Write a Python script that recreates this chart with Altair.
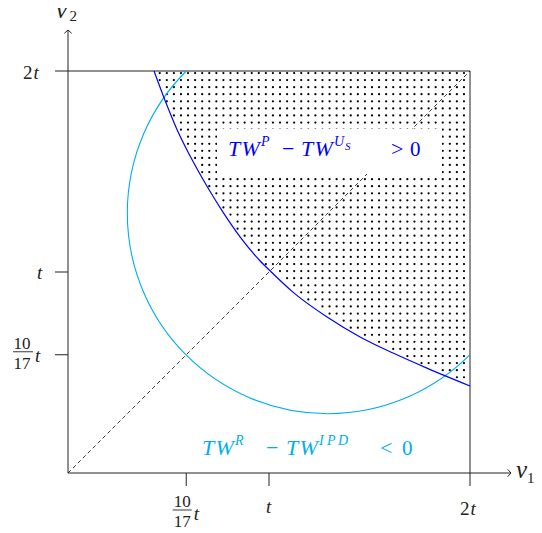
import altair as alt
import numpy as np
import pandas as pd

# ---------------- values (units of t) ----------------
TICK_VALUES = [10 / 17, 1.0, 2.0]
BOX_MAX = 2.0            # square [0, 2t] x [0, 2t]
AXIS_END = 2.204         # where the axis arrows end

# blue boundary  TW^P - TW^{U_S} = 0
CURVE_V1 = [0.428, 0.483, 0.541, 0.607, 0.690, 0.771, 0.856, 0.955, 1.005,
            1.119, 1.289, 1.453, 1.617, 1.786, 2.000]
CURVE_V2 = [2.000, 1.853, 1.712, 1.578, 1.429, 1.298, 1.175, 1.056, 1.006,
            0.900, 0.776, 0.677, 0.597, 0.522, 0.433]

# cyan circle  TW^R - TW^{IPD} = 0
CIRCLE_CENTER = [1.294, 1.294]
CIRCLE_RADIUS = 0.998

# label anchors (left end of baseline)
LABEL1_POS = [0.796, 1.577]
LABEL2_POS = [0.667, 0.090]

# ---------------- layout ----------------
PX = 201.0                 # pixels per t
W, H = 526, 525
OX, OY = 60, 465           # origin inside the view
XDOM = [-OX / PX, (W - OX) / PX]
YDOM = [(OY - H) / PX, OY / PX]
xs = alt.Scale(domain=XDOM, nice=False, zero=False)
ys = alt.Scale(domain=YDOM, nice=False, zero=False)

BLUE = "#0000ff"
CYAN = "#00aeef"
INK = "#222222"
FONT = "Liberation Serif"


def off(anchor, dxp, dyp):
    """anchor in t-units, offset in screen pixels (dy downward)."""
    return anchor[0] + dxp / PX, anchor[1] - dyp / PX


def X(f):
    return alt.X(f, type="quantitative", scale=xs, axis=None)


def Y(f):
    return alt.Y(f, type="quantitative", scale=ys, axis=None)


# ---------------- dotted fill above the blue curve ----------------
DOT_STEP = 0.0352
gx = np.arange(1.970, 0.40, -DOT_STEP)
gy = np.arange(1.990, 0.40, -DOT_STEP)
GX, GY = np.meshgrid(gx, gy)
mask = GY > np.interp(GX, CURVE_V1, CURVE_V2) + 0.012
dots_df = pd.DataFrame({"x": GX[mask], "y": GY[mask]})
dots = alt.Chart(dots_df).mark_circle(size=5, color="black", opacity=1).encode(
    x=X("x"), y=Y("y"))

# ---------------- dashed diagonal ----------------
diag_df = pd.DataFrame({"x": [0.0], "y": [0.0], "x2": [BOX_MAX], "y2": [BOX_MAX]})
diag = alt.Chart(diag_df).mark_rule(color=INK, strokeWidth=0.9, strokeDash=[4, 3]).encode(
    x=X("x"), y=Y("y"), x2="x2", y2="y2")

# ---------------- white box behind label 1 ----------------
bx0, by0 = off(LABEL1_POS, -11, -27)
bx1, by1 = off(LABEL1_POS, 214, 18)
box_df = pd.DataFrame({"x": [bx0], "y": [by0], "x2": [bx1], "y2": [by1]})
wbox = alt.Chart(box_df).mark_rect(color="white").encode(
    x=X("x"), y=Y("y"), x2="x2", y2="y2")

# ---------------- axes, frame, ticks ----------------
TL = 13 / PX   # tick length
a = TICK_VALUES[0]
seg = [
    (0, 0, AXIS_END, 0),                 # v1 axis
    (0, 0, 0, AXIS_END),                 # v2 axis
    (-TL, BOX_MAX, BOX_MAX, BOX_MAX),    # top edge (with 2t tick)
    (BOX_MAX, -TL, BOX_MAX, BOX_MAX),    # right edge (with 2t tick)
]
for tv in TICK_VALUES[:2]:
    seg.append((tv, 0, tv, -TL))
    seg.append((-TL, tv, 0, tv))
seg_df = pd.DataFrame(seg, columns=["x", "y", "x2", "y2"])
frame = alt.Chart(seg_df).mark_rule(color=INK, strokeWidth=1).encode(
    x=X("x"), y=Y("y"), x2="x2", y2="y2")

arrows_df = pd.DataFrame({"x": [AXIS_END, 0.0], "y": [0.0, AXIS_END],
                          "shape": ["M-1,-1.1L0,0L-1,1.1", "M-1.1,1L0,0L1.1,1"]})
arrows = alt.Chart(arrows_df).mark_point(filled=False, size=44, color=INK, strokeWidth=1,
                                         opacity=1).encode(
    x=X("x"), y=Y("y"), shape=alt.Shape("shape:N", scale=None, legend=None))

# ---------------- cyan circle arc (clipped to the square) ----------------
cx, cy = CIRCLE_CENTER
hv = np.sqrt(CIRCLE_RADIUS ** 2 - (BOX_MAX - cx) ** 2)
th1 = float(np.arctan2(BOX_MAX - cx, (cy - hv) - cy))            # point on right edge
th2 = float(np.arctan2((cx - hv) - cx, BOX_MAX - cy) + 2 * np.pi)  # point on top edge
arc_df = pd.DataFrame({"x": [cx], "y": [cy]})
arc = alt.Chart(arc_df).mark_arc(theta=th1, theta2=th2, radius=CIRCLE_RADIUS * PX,
                                 radius2=CIRCLE_RADIUS * PX, filled=False,
                                 color=CYAN, strokeWidth=1.1).encode(x=X("x"), y=Y("y"))

# ---------------- blue curve ----------------
curve_df = pd.DataFrame({"x": CURVE_V1, "y": CURVE_V2})
curve = alt.Chart(curve_df).mark_line(color=BLUE, strokeWidth=1.2, interpolate="monotone").encode(
    x=X("x"), y=Y("y"))

# ---------------- text fragments ----------------
frags = []   # (x, y, text, size, italic, color)


def add(anchor, dxp, dyp, text, size, italic, color=INK):
    x, y = off(anchor, dxp, dyp)
    frags.append((x, y, text, size, italic, color))


L1 = [("T", 0, 0, 22, True), ("W", 13.5, 0, 22, True), ("P", 33, -10, 14, True),
      ("\u2212", 54, 0, 22, False), ("T", 73, 0, 22, True), ("W", 86.5, 0, 22, True),
      ("U", 106, -10, 14, True), ("S", 117, -6, 11, True),
      (">", 163, 0, 22, False), ("0", 182, 0, 21, False)]
for t, dxp, dyp, s, it in L1:
    add(LABEL1_POS, dxp, dyp, t, s, it, BLUE)

L2 = [("T", 0, 0, 22, True), ("W", 13.5, 0, 22, True), ("R", 33, -10, 14, True),
      ("\u2212", 64, 0, 22, False), ("T", 84, 0, 22, True), ("W", 97.5, 0, 22, True),
      ("I", 117, -10, 14, True), ("P", 125, -10, 14, True), ("D", 136, -10, 14, True),
      ("<", 178, 0, 22, False), ("0", 200, 0, 21, False)]
for t, dxp, dyp, s, it in L2:
    add(LABEL2_POS, dxp, dyp, t, s, it, CYAN)

# x-axis tick labels
ax_a, ax_1, ax_2 = (a, 0.0), (1.0, 0.0), (2.0, 0.0)
add(ax_a, -12.4, 34, "10", 17, False)
add(ax_a, -12.4, 54, "17", 17, False)
add(ax_a, 7.5, 47, "t", 19, True)
add(ax_1, -3, 40, "t", 19, True)
add(ax_2, -10, 42, "2", 19, False)
add(ax_2, 0.5, 42, "t", 19, True)
# y-axis tick labels
ay_a, ay_1, ay_2 = (0.0, a), (0.0, 1.0), (0.0, 2.0)
add(ay_a, -54.5, -6, "10", 17, False)
add(ay_a, -54.5, 14, "17", 17, False)
add(ay_a, -33, 7, "t", 19, True)
add(ay_1, -31, 7, "t", 19, True)
add(ay_2, -45, 8, "2", 19, False)
add(ay_2, -34.5, 8, "t", 19, True)
# axis names
add((AXIS_END, 0.0), 5, 5, "v", 25, True)
add((AXIS_END, 0.0), 16, 10, "1", 15, False)
add((0.0, AXIS_END), -12, -12, "v", 25, True)
add((0.0, AXIS_END), 1.5, -9, "2", 15, False)

frag_df = pd.DataFrame(frags, columns=["x", "y", "text", "size", "italic", "color"])

text_layers = []
for (sz, it), grp in frag_df.groupby(["size", "italic"]):
    text_layers.append(
        alt.Chart(grp.reset_index(drop=True)).mark_text(
            align="left", baseline="alphabetic", font=FONT, fontSize=float(sz),
            fontStyle="italic" if it else "normal").encode(
            x=X("x"), y=Y("y"), text="text:N",
            color=alt.Color("color:N", scale=None, legend=None)))

# fraction bars
bars = []
for anchor, d0, d1, dyp in [(ax_a, -13.5, 5.5, 37), (ay_a, -55, -35, -3)]:
    x0, y0 = off(anchor, d0, dyp)
    x1, _ = off(anchor, d1, dyp)
    bars.append((x0, y0, x1, y0))
bars_df = pd.DataFrame(bars, columns=["x", "y", "x2", "y2"])
fbars = alt.Chart(bars_df).mark_rule(color=INK, strokeWidth=0.9).encode(
    x=X("x"), y=Y("y"), x2="x2", y2="y2")

chart = alt.layer(dots, diag, wbox, frame, arrows, arc, curve, fbars, *text_layers).properties(
    width=W, height=H, padding=0,
    autosize=alt.AutoSizeParams(type="none"),
).configure_view(strokeWidth=0)

chart.save("out.html", embed_options={"renderer": "svg", "actions": False})
